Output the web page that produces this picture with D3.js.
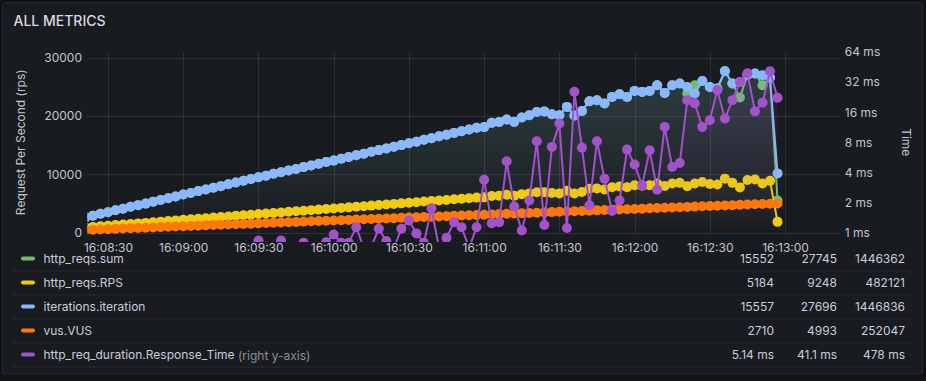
<!DOCTYPE html>
<html>
<head>
<meta charset="utf-8">
<script src="https://cdn.jsdelivr.net/npm/d3@7"></script>
<style>
  html, body { margin: 0; padding: 0; background: #111217; }
  svg { display: block; font-family: Inter, "Open Sans", "DejaVu Sans", sans-serif; }
</style>
</head>
<body>
<svg id="chart" width="926" height="381"></svg>
<script>
// ---------------- DATA ----------------
const times = [
  "16:08:21","16:08:24","16:08:27","16:08:30","16:08:33","16:08:36","16:08:39","16:08:42","16:08:45","16:08:48","16:08:51","16:08:54","16:08:57",
  "16:09:00","16:09:03","16:09:06","16:09:09","16:09:12","16:09:15","16:09:18","16:09:21","16:09:24","16:09:27","16:09:30","16:09:33","16:09:36","16:09:39","16:09:42","16:09:45","16:09:48","16:09:51","16:09:54","16:09:57",
  "16:10:00","16:10:03","16:10:06","16:10:09","16:10:12","16:10:15","16:10:18","16:10:21","16:10:24","16:10:27","16:10:30","16:10:33","16:10:36","16:10:39","16:10:42","16:10:45","16:10:48","16:10:51","16:10:54","16:10:57",
  "16:11:00","16:11:03","16:11:06","16:11:09","16:11:12","16:11:15","16:11:18","16:11:21","16:11:24","16:11:27","16:11:30","16:11:33","16:11:36","16:11:39","16:11:42","16:11:45","16:11:48","16:11:51","16:11:54","16:11:57",
  "16:12:00","16:12:03","16:12:06","16:12:09","16:12:12","16:12:15","16:12:18","16:12:21","16:12:24","16:12:27","16:12:30","16:12:33","16:12:36","16:12:39","16:12:42","16:12:45","16:12:48","16:12:51","16:12:54","16:12:57"
];

const httpReqsSum = [
  2600,2890,3230,3490,3820,4080,4410,4700,4960,5300,5590,5870,6200,
  6520,6790,7110,7380,7700,7960,8290,8600,8880,9190,9490,9760,10080,10350,10660,10920,11230,11520,11800,12110,
  12350,12680,12960,13270,13540,13860,14150,14420,14740,15010,15320,15600,15930,16200,16520,16790,17110,17380,17700,17980,
  18100,18830,18990,19410,19000,19760,20150,20700,20800,20320,20150,21570,20100,20880,22550,22720,22150,23290,23750,23290,
  24320,24150,24320,25290,23970,25290,25580,23870,25290,26030,25000,24730,27745,25580,23180,27080,27300,25290,26600,5490
];

const httpReqsRPS = [
  867,963,1077,1163,1273,1360,1470,1567,1653,1767,1863,1957,2067,
  2173,2263,2370,2460,2567,2653,2763,2867,2960,3063,3163,3253,3360,3450,3553,3640,3743,3840,3933,4037,
  4117,4227,4320,4423,4513,4620,4717,4807,4913,5003,5107,5200,5310,5400,5507,5597,5703,5793,5900,5993,
  6033,6277,6330,6470,6333,6587,6717,6900,6933,6773,6717,7190,6700,6960,7517,7573,7383,7763,7917,7763,
  8107,8050,8107,8430,7990,8430,8527,7957,8430,8677,8333,8243,9248,8527,7727,9027,9100,8430,8867,1830
];

const iterations = [
  2600,2890,3230,3490,3820,4080,4410,4700,4960,5300,5590,5870,6200,
  6520,6790,7110,7380,7700,7960,8290,8600,8880,9190,9490,9760,10080,10350,10660,10920,11230,11520,11800,12110,
  12350,12680,12960,13270,13540,13860,14150,14420,14740,15010,15320,15600,15930,16200,16520,16790,17110,17380,17700,17980,
  18100,18830,18990,19410,19000,19760,20150,20700,20800,20320,20150,21570,20100,20880,22550,22720,22150,23290,23750,23290,
  24320,24150,24320,25290,23970,25290,25580,25000,23870,26030,25000,24730,27696,25580,25860,27080,27300,27010,26600,10150
];

const vus = [
  430,480,529,579,628,678,728,777,827,876,926,976,1025,
  1075,1124,1174,1224,1273,1323,1372,1422,1472,1521,1571,1620,1670,1720,1769,1819,1868,1918,1968,2017,
  2067,2116,2166,2216,2265,2315,2364,2414,2464,2513,2563,2612,2662,2712,2761,2811,2860,2910,2960,3009,
  3059,3108,3158,3208,3257,3307,3356,3406,3456,3505,3555,3604,3654,3704,3753,3803,3852,3902,3952,4001,
  4051,4100,4150,4200,4249,4299,4348,4398,4448,4497,4547,4596,4646,4696,4745,4795,4844,4894,4944,4993
];

// response time in ms (right, log2 axis)
const responseTime = [
  0.52,0.55,0.58,0.50,0.56,0.60,0.53,0.57,0.55,0.50,0.58,0.54,0.56,
  0.60,0.52,0.55,0.57,0.53,0.56,0.58,0.55,0.52,0.57,0.83,0.70,0.72,0.83,0.70,0.70,0.79,0.70,0.72,0.80,
  0.955,0.79,0.79,1.13,0.70,0.72,1.09,0.82,0.70,1.09,1.32,0.98,0.79,1.75,0.70,0.885,1.27,1.13,0.70,1.13,
  3.38,1.24,1.27,5.16,1.82,1.05,2.09,8.2,1.19,7.19,12.3,1.11,25.6,7.07,1.87,8.2,3.45,1.64,2.09,6.75,
  4.8,2.96,6.65,2.68,11.4,4.52,4.95,21.1,19.6,11.4,13.3,26.6,13.8,21.1,32.2,39.2,16.3,19.9,41.1,22.3
];

const xTickLabels = ["16:08:30","16:09:00","16:09:30","16:10:00","16:10:30","16:11:00","16:11:30","16:12:00","16:12:30","16:13:00"];
const leftTicks = [0, 10000, 20000, 30000];
const rightTicks = [1, 2, 4, 8, 16, 32, 64];

const seriesNames = ["http_reqs.sum", "http_reqs.RPS", "iterations.iteration", "vus.VUS", "http_req_duration.Response_Time"];
const seriesColors = ["#73BF69", "#F2CC0C", "#8AB8FF", "#FF780A", "#A352CC"];
const legendMean = ["15552", "5184", "15557", "2710", "5.14 ms"];
const legendMax = ["27745", "9248", "27696", "4993", "41.1 ms"];
const legendTotal = ["1446362", "482121", "1446836", "252047", "478 ms"];

// ---------------- CHART ----------------
const svg = d3.select("#chart");
const W = 926, H = 381;
const plot = { left: 87.5, right: 839.8, top: 52, bottom: 232.5 };

svg.append("rect").attr("x", 0).attr("y", 0).attr("width", W).attr("height", H).attr("fill", "#111217");
svg.append("rect").attr("x", 2.5).attr("y", 2.5).attr("width", 920).attr("height", 371.5)
  .attr("rx", 2).attr("fill", "#181b1f").attr("stroke", "#26292f");

svg.append("text").attr("x", 13.5).attr("y", 25.5).text("ALL METRICS")
  .attr("fill", "#d8d9e0").attr("font-size", 14).attr("font-weight", 500);

const parseT = d3.timeParse("%H:%M:%S");
const parseTms = d3.timeParse("%H:%M:%S.%L");
const tDates = times.map(parseT);

const x = d3.scaleTime()
  .domain([parseTms("16:08:21.830"), parseTms("16:13:21.830")])
  .range([plot.left, plot.right]);
const yL = d3.scaleLinear().domain([0, 31000]).range([plot.bottom, plot.top]);
const yR = d3.scaleLog().base(2).domain([1, 64]).range([plot.bottom, plot.top]);

const gridColor = "rgba(204,204,220,0.12)";
const axisTextColor = "#c4c6ce";

// grid
const grid = svg.append("g");
grid.selectAll("line.h").data(leftTicks).join("line")
  .attr("x1", plot.left).attr("x2", plot.right)
  .attr("y1", d => Math.round(yL(d)) + 0.5).attr("y2", d => Math.round(yL(d)) + 0.5)
  .attr("stroke", gridColor);
grid.selectAll("line.v").data(xTickLabels.map(parseT)).join("line")
  .attr("x1", d => Math.round(x(d)) + 0.5).attr("x2", d => Math.round(x(d)) + 0.5)
  .attr("y1", plot.top).attr("y2", plot.bottom)
  .attr("stroke", gridColor);

// axes
function styleAxis(g) {
  g.select(".domain").remove();
  g.selectAll(".tick line").remove();
  g.selectAll("text").attr("fill", axisTextColor).attr("font-size", 12)
    .attr("font-family", "Inter, 'Open Sans', sans-serif");
}
svg.append("g").attr("transform", `translate(0,${plot.bottom})`)
  .call(d3.axisBottom(x).tickValues(xTickLabels.map(parseT)).tickFormat(d3.timeFormat("%H:%M:%S")).tickSize(0).tickPadding(11))
  .call(styleAxis);
svg.append("g").attr("transform", `translate(${plot.left - 0.5},0)`)
  .call(d3.axisLeft(yL).tickValues(leftTicks).tickFormat(d3.format("d")).tickSize(0).tickPadding(5))
  .call(styleAxis);
svg.append("g").attr("transform", `translate(${plot.right},0)`)
  .call(d3.axisRight(yR).tickValues(rightTicks).tickFormat(d => d + " ms").tickSize(0).tickPadding(5))
  .call(styleAxis);

svg.append("text").attr("transform", `translate(20,${(plot.top + plot.bottom) / 2}) rotate(-90)`)
  .attr("text-anchor", "middle").attr("dominant-baseline", "central")
  .attr("fill", axisTextColor).attr("font-size", 12).text("Request Per Second (rps)");
svg.append("text").attr("transform", `translate(906,${(plot.top + plot.bottom) / 2}) rotate(90)`)
  .attr("text-anchor", "middle").attr("dominant-baseline", "central")
  .attr("fill", axisTextColor).attr("font-size", 12).text("Time");

// clip
const defs = svg.append("defs");
defs.append("clipPath").attr("id", "plotClip").append("rect")
  .attr("x", plot.left).attr("y", 40).attr("width", plot.right - plot.left + 1).attr("height", 242 - 40);

const seriesData = [httpReqsSum, httpReqsRPS, iterations, vus, responseTime];
const seriesScale = [yL, yL, yL, yL, yR];
const fillOpacity = [0.12, 0.11, 0.13, 0.11, 0.15];

seriesColors.forEach((c, k) => {
  const gr = defs.append("linearGradient").attr("id", "grad" + k)
    .attr("gradientUnits", "userSpaceOnUse")
    .attr("x1", 0).attr("x2", 0).attr("y1", plot.top).attr("y2", plot.bottom);
  gr.append("stop").attr("offset", 0).attr("stop-color", c).attr("stop-opacity", fillOpacity[k]);
  gr.append("stop").attr("offset", 1).attr("stop-color", c).attr("stop-opacity", 0);
});

const plotG = svg.append("g").attr("clip-path", "url(#plotClip)");

seriesData.forEach((vals, k) => {
  const ys = seriesScale[k];
  const pts = vals.map((v, i) => [x(tDates[i]), ys(v)]);
  const g = plotG.append("g");
  g.append("path")
    .attr("d", d3.area().x(d => d[0]).y0(plot.bottom).y1(d => d[1])(pts))
    .attr("fill", `url(#grad${k})`);
  g.append("path")
    .attr("d", d3.line()(pts))
    .attr("fill", "none").attr("stroke", seriesColors[k]).attr("stroke-width", 2)
    .attr("stroke-linejoin", "round");
  g.selectAll("circle").data(pts).join("circle")
    .attr("cx", d => d[0]).attr("cy", d => d[1]).attr("r", 5)
    .attr("fill", seriesColors[k]);
});

// legend
const legend = svg.append("g");
const rowY = [258.5, 282.5, 306.5, 330.5, 354.5];
seriesNames.forEach((name, k) => {
  const y = rowY[k];
  legend.append("rect").attr("x", 21).attr("y", y - 2).attr("width", 14).attr("height", 4)
    .attr("rx", 2).attr("fill", seriesColors[k]);
  const t = legend.append("text").attr("x", 43.5).attr("y", y).attr("dominant-baseline", "central")
    .attr("fill", "#ccccdc").attr("font-size", 12).text(name);
  if (k === 4) {
    t.append("tspan").attr("fill", "#8e8f98").text(" (right y-axis)");
  }
  [[legendMean, 774], [legendMax, 837], [legendTotal, 905]].forEach(([arr, xr]) => {
    legend.append("text").attr("x", xr).attr("y", y).attr("text-anchor", "end")
      .attr("dominant-baseline", "central").attr("fill", "#ccccdc").attr("font-size", 12).text(arr[k]);
  });
  legend.append("line").attr("x1", 13).attr("x2", 913).attr("y1", y + 12.5).attr("y2", y + 12.5)
    .attr("stroke", "#2a2d33");
});
</script>
</body>
</html>
